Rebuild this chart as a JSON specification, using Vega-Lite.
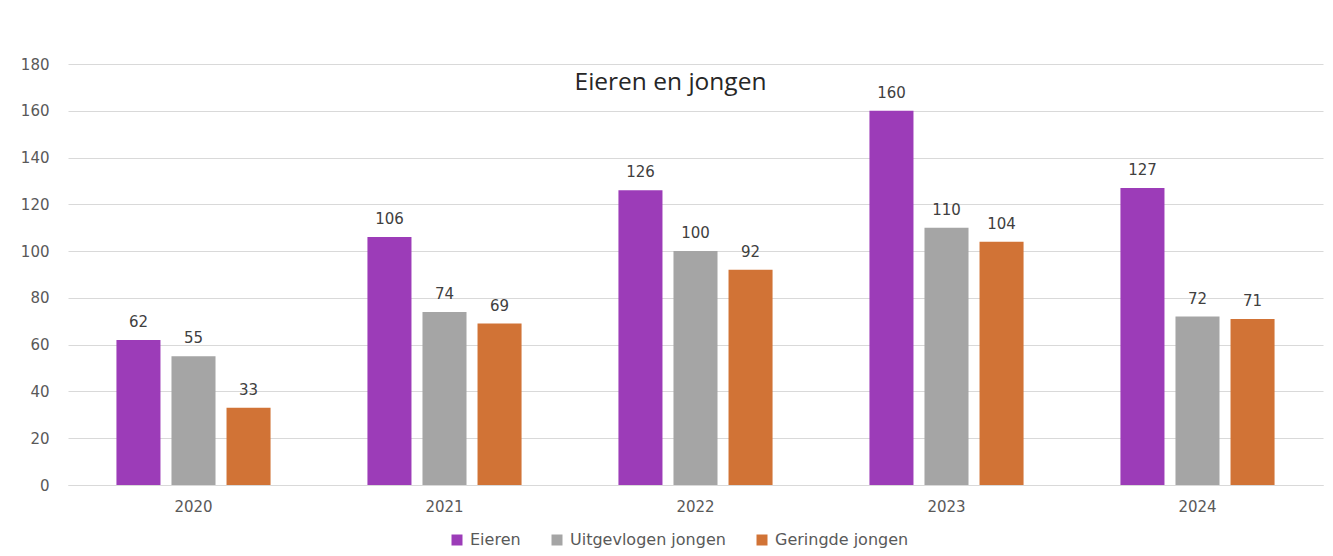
{
  "$schema": "https://vega.github.io/schema/vega-lite/v6.json",
  "width": 1255,
  "height": 421,
  "autosize": {"type": "none"},
  "padding": {"left": 68, "top": 64, "right": 10, "bottom": 71},
  "background": "white",
  "title": {
    "text": "Eieren en jongen",
    "font": "Open Sans",
    "fontSize": 24.5,
    "fontWeight": "normal",
    "color": "#262626",
    "offset": -38,
    "dx": -25,
    "anchor": "middle"
  },
  "data": {
    "values": [
      {"jaar": "2020", "reeks": "Eieren", "aantal": 62},
      {"jaar": "2020", "reeks": "Uitgevlogen jongen", "aantal": 55},
      {"jaar": "2020", "reeks": "Geringde jongen", "aantal": 33},
      {"jaar": "2021", "reeks": "Eieren", "aantal": 106},
      {"jaar": "2021", "reeks": "Uitgevlogen jongen", "aantal": 74},
      {"jaar": "2021", "reeks": "Geringde jongen", "aantal": 69},
      {"jaar": "2022", "reeks": "Eieren", "aantal": 126},
      {"jaar": "2022", "reeks": "Uitgevlogen jongen", "aantal": 100},
      {"jaar": "2022", "reeks": "Geringde jongen", "aantal": 92},
      {"jaar": "2023", "reeks": "Eieren", "aantal": 160},
      {"jaar": "2023", "reeks": "Uitgevlogen jongen", "aantal": 110},
      {"jaar": "2023", "reeks": "Geringde jongen", "aantal": 104},
      {"jaar": "2024", "reeks": "Eieren", "aantal": 127},
      {"jaar": "2024", "reeks": "Uitgevlogen jongen", "aantal": 72},
      {"jaar": "2024", "reeks": "Geringde jongen", "aantal": 71}
    ]
  },
  "encoding": {
    "x": {
      "field": "jaar",
      "type": "nominal",
      "scale": {"paddingInner": 0.386, "paddingOuter": 0.193},
      "axis": {
        "title": null,
        "labelAngle": 0,
        "labelFont": "DejaVu Sans",
        "labelFontSize": 15,
        "labelColor": "#595959",
        "labelPadding": 14,
        "ticks": false,
        "domain": true,
        "domainColor": "#D9D9D9",
        "grid": false
      }
    },
    "xOffset": {
      "field": "reeks",
      "type": "nominal",
      "sort": ["Eieren", "Uitgevlogen jongen", "Geringde jongen"],
      "scale": {"paddingInner": 0.2, "paddingOuter": 0}
    },
    "y": {
      "field": "aantal",
      "type": "quantitative",
      "scale": {"domain": [0, 180]},
      "axis": {
        "title": null,
        "values": [0, 20, 40, 60, 80, 100, 120, 140, 160, 180],
        "labelFont": "DejaVu Sans",
        "labelFontSize": 15,
        "labelColor": "#595959",
        "labelPadding": 19,
        "ticks": false,
        "domain": false,
        "gridColor": "#D9D9D9",
        "gridWidth": 1
      }
    }
  },
  "layer": [
    {
      "mark": {"type": "bar"},
      "encoding": {
        "color": {
          "field": "reeks",
          "type": "nominal",
          "scale": {
            "domain": ["Eieren", "Uitgevlogen jongen", "Geringde jongen"],
            "range": ["#9C3CB8", "#A5A5A5", "#D17336"]
          },
          "legend": {
            "title": null,
            "orient": "none",
            "legendX": 381,
            "legendY": 468,
            "direction": "horizontal",
            "symbolType": "square",
            "symbolSize": 121,
            "symbolStrokeWidth": 0,
            "labelFont": "DejaVu Sans",
            "labelFontSize": 16,
            "labelColor": "#595959",
            "columnPadding": 28,
            "labelOffset": 5
          }
        }
      }
    },
    {
      "mark": {
        "type": "text",
        "baseline": "bottom",
        "dy": -10,
        "font": "DejaVu Sans",
        "fontSize": 15,
        "color": "#404040"
      },
      "encoding": {
        "text": {"field": "aantal", "type": "quantitative"}
      }
    }
  ],
  "config": {
    "view": {"stroke": null}
  }
}
